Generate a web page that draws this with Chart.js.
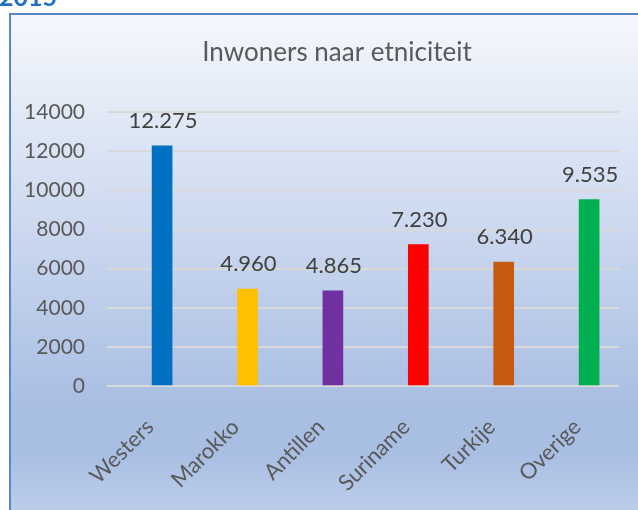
<!DOCTYPE html>
<html>
<head>
<meta charset="utf-8">
<script src="https://cdn.jsdelivr.net/npm/chart.js@4.4.1/dist/chart.umd.min.js"></script>
<style>
  html, body { margin: 0; padding: 0; background: #ffffff; }
  #wrap { position: relative; width: 638px; height: 510px; overflow: hidden; }
  #jaar {
    position: absolute; left: -1px; top: -19px; z-index: 2;
    font: bold 25px Lato, sans-serif; color: #1F6FC5;
  }
</style>
</head>
<body>
<div id="wrap">
  <div id="jaar">2015</div>
  <canvas id="etnChart"></canvas>
</div>
<script>
// gegevens
const categorieen = ['Westers', 'Marokko', 'Antillen', 'Suriname', 'Turkije', 'Overige'];
const inwoners = [12275, 4960, 4865, 7230, 6340, 9535];
const kleuren = ['#0070C0', '#FFC000', '#7030A0', '#FF0000', '#C55A11', '#00B050'];
const yMin = 0, yMax = 14000, yStap = 2000;

function nlGetal(n) {
    return String(n).replace(/\B(?=(\d{3})+(?!\d))/g, '.');
}

// achtergrond met kader en verloop
const achtergrond = {
    id: 'achtergrond',
    afterLayout(chart) {
        // titel gecentreerd op het kader
        chart.titleBlock.left = 55;
    },
    beforeDraw(chart) {
        const ctx = chart.ctx;
        ctx.save();
        ctx.fillStyle = '#ffffff';
        ctx.fillRect(0, 0, chart.width, chart.height);
        const x = 10, y = 14, w = 660, h = 530;
        const grad = ctx.createLinearGradient(0, y, 0, y + h);
        grad.addColorStop(0, '#F5F8FD');
        grad.addColorStop(0.74, '#A9BEE3');
        grad.addColorStop(0.83, '#A9BEE3');
        grad.addColorStop(1, '#C7D6EE');
        ctx.fillStyle = grad;
        ctx.fillRect(x, y, w, h);
        ctx.strokeStyle = '#5A84CF';
        ctx.lineWidth = 2;
        ctx.strokeRect(x, y, w, h);
        ctx.restore();
    }
};

// waarden boven de staven
const waardeLabels = {
    id: 'waardeLabels',
    afterDatasetsDraw(chart) {
        const ctx = chart.ctx;
        const meta = chart.getDatasetMeta(0);
        ctx.save();
        ctx.font = '22px Lato, sans-serif';
        ctx.fillStyle = '#404040';
        ctx.textAlign = 'center';
        ctx.textBaseline = 'alphabetic';
        meta.data.forEach((bar, i) => {
            ctx.fillText(nlGetal(inwoners[i]), bar.x + 1, bar.y - 18);
        });
        ctx.restore();
    }
};

const chart = new Chart(document.querySelector('#etnChart'), {
    type: 'bar',
    data: {
        labels: categorieen,
        datasets: [{
            label: 'Inwoners',
            data: inwoners.map((v, i) => ({ x: i, y: v })),
            backgroundColor: kleuren,
            borderWidth: 0,
            barThickness: 20,
        }],
    },
    options: {
        responsive: true,
        maintainAspectRatio: false,
        animation: false,
        layout: { padding: { left: 20, right: 19, top: 0, bottom: 0 } },
        plugins: {
            legend: { display: false },
            tooltip: { enabled: false },
            title: {
                display: true,
                text: 'Inwoners naar etniciteit',
                color: '#595959',
                font: { family: 'Lato', size: 26, weight: 'normal', lineHeight: 1.2 },
                padding: { top: 37, bottom: 44 },
            },
        },
        scales: {
            x: {
                type: 'linear',
                offset: false,
                min: -0.645,
                max: 5.35,
                grid: { display: false, offset: false },
                border: { display: false },
                afterBuildTicks(scale) {
                    scale.ticks = categorieen.map((c, i) => ({ value: i }));
                },
                ticks: {
                    color: '#595959',
                    font: { family: 'Lato', size: 22 },
                    minRotation: 45,
                    maxRotation: 45,
                    autoSkip: false,
                    padding: 20,
                    labelOffset: -12,
                    callback: (v) => categorieen[v],
                },
                afterFit(scale) { scale.height = 124; },
            },
            y: {
                min: yMin,
                max: yMax,
                grid: { color: '#D9D9D9', lineWidth: 2, drawTicks: false },
                border: { display: false },
                ticks: {
                    stepSize: yStap,
                    color: '#595959',
                    font: { family: 'Lato', size: 21 },
                    padding: 22,
                    callback: (v) => String(v),
                },
                afterFit(scale) { scale.width = 87; },
            },
        },
    },
    plugins: [achtergrond, waardeLabels],
});
</script>
</body>
</html>
